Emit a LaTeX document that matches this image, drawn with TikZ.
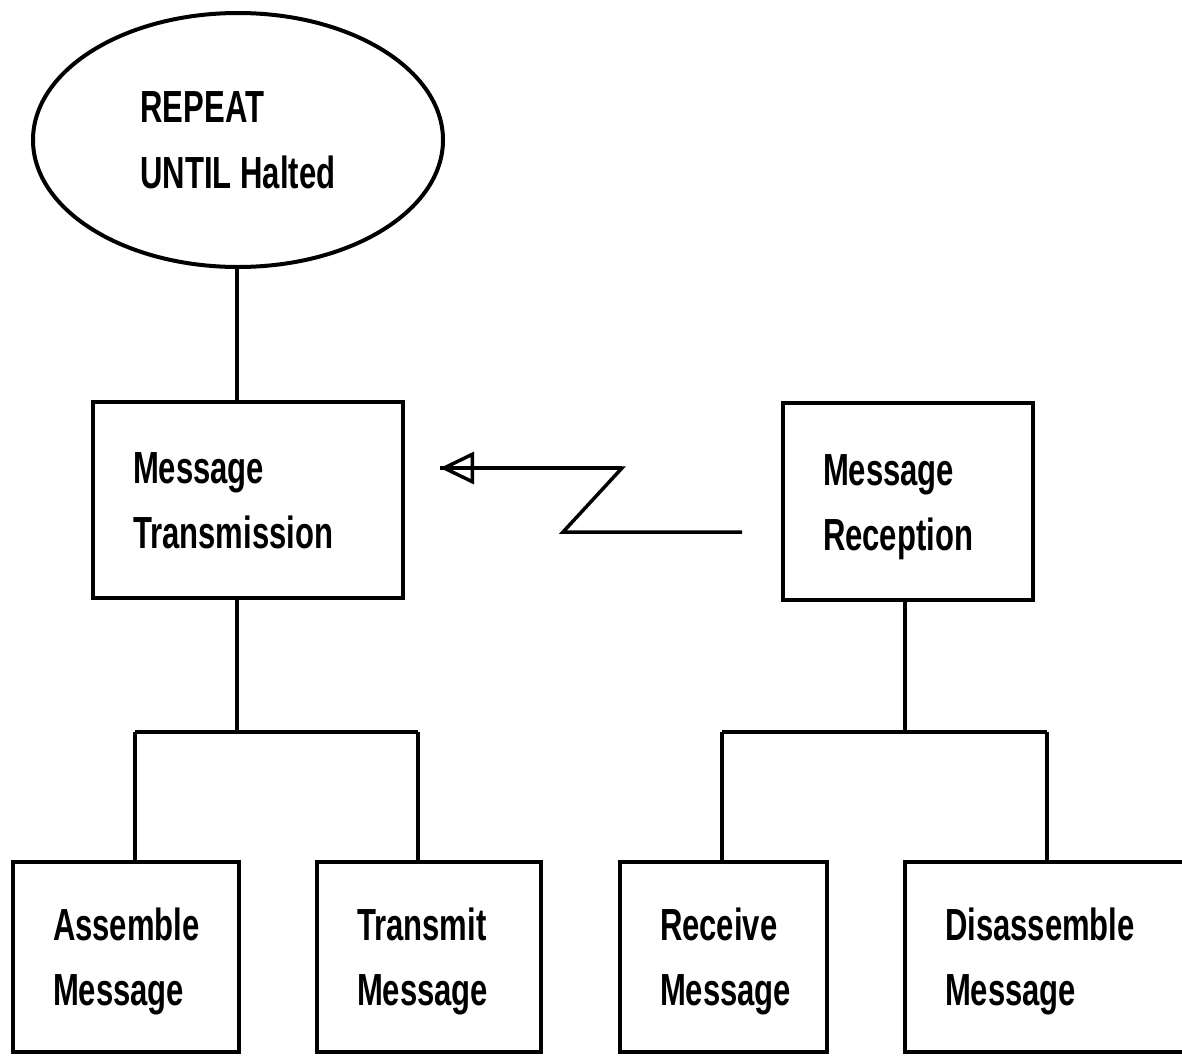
\documentclass[tikz,border=0pt]{standalone}
\usepackage{fontspec}
\setmainfont{Liberation Sans}[FakeStretch=0.69]
\usetikzlibrary{shapes.geometric,arrows.meta}

\begin{document}
\begin{tikzpicture}[x=1pt,y=-1pt,
    line width=4pt,
    every node/.style={font=\fontsize{45}{65}\selectfont\bfseries},
    procbox/.style={draw, rectangle, align=left, inner xsep=40pt, inner ysep=0pt,
      text height=32pt, text depth=65pt},
    loopell/.style={draw, ellipse, align=left, inner sep=0pt,
      minimum width=410pt, minimum height=254pt},
    link/.style={line width=3.5pt}]
  \useasboundingbox (0,0) rectangle (1182,1055);

  % loop control
  \node[loopell] (ell) at (238,140) {REPEAT\\[1pt]UNTIL Halted};

  % second level
  \node[procbox, text width=230pt, minimum height=196pt] (tx) at (248,500)
    {Message\\Transmission};
  \node[procbox, text width=170pt, minimum height=197pt] (rx) at (908,501.5)
    {Message\\Reception};

  % leaves
  \node[procbox, text width=146pt, minimum height=190pt] (asm) at (126,957)
    {Assemble\\Message};
  \node[procbox, text width=144pt, minimum height=190pt] (trm) at (429,957)
    {Transmit\\Message};
  \node[procbox, text width=127pt, minimum height=190pt] (rcv) at (723.5,957)
    {Receive\\Message};
  \node[procbox, text width=215pt, minimum height=190pt] (dis) at (1052.5,957)
    {Disassemble\\Message};

  % branch points
  \coordinate (tj) at (237,732);
  \coordinate (ta) at (135,732);
  \coordinate (tt) at (418,732);
  \coordinate (rj) at (905,732);
  \coordinate (ra) at (722,732);
  \coordinate (rt) at (1047,732);

  % tree connectors
  \draw[link] (ell.south -| tj) -- (tx.north -| tj);
  \draw[link] (tx.south -| tj) -- (tj);
  \draw[link] (ta) -- (tt);
  \draw[link] (ta) -- (asm.north -| ta);
  \draw[link] (tt) -- (trm.north -| tt);
  \draw[link] (rx.south -| rj) -- (rj);
  \draw[link] (ra) -- (rt);
  \draw[link] (ra) -- (rcv.north -| ra);
  \draw[link] (rt) -- (dis.north -| rt);

  % message flow (lightning arrow), shaft runs through the open head
  \coordinate (zs) at (742,532);
  \coordinate (zb) at (563,532);
  \coordinate (zc) at (622,468);
  \coordinate (ztip) at (440,468);
  \draw[link, -{Triangle[open, length=34pt, width=32pt, line width=3.5pt]}]
    (zs) -- (zb) -- (zc) -- (ztip);
  \draw[link] (zc) -- (ztip);
\end{tikzpicture}
\end{document}
